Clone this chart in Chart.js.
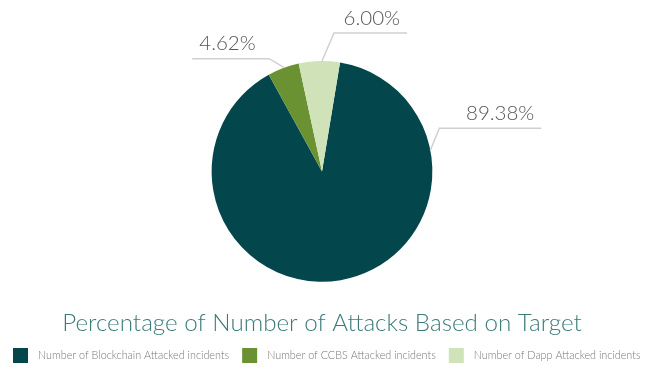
<!DOCTYPE html>
<html>
<head>
<meta charset="utf-8">
<script src="https://cdn.jsdelivr.net/npm/chart.js@4.4.1/dist/chart.umd.min.js"></script>
<style>
  html, body { margin: 0; padding: 0; background: #fff; }
  #wrap { width: 661px; height: 372px; position: relative; }
</style>
</head>
<body>
<div id="wrap"><canvas id="pieChart"></canvas></div>
<script>
// chart data
const categories = [
    'Number of Blockchain Attacked incidents',
    'Number of CCBS Attacked incidents',
    'Number of Dapp Attacked incidents'
];
const shares = [89.38, 4.62, 6.00];
const sliceColors = ['#03474c', '#6a9132', '#d0e2b8'];
const chartTitle = 'Percentage of Number of Attacks Based on Target';

// where each percent label hangs off the pie (angle from 12 o'clock, clockwise)
const labelLayout = [
    { angle: 79, dx: 9, dy: -22, len: 102, side: 1 },
    { angle: -20, dx: -15, dy: -9, len: 77, side: -1 },
    { angle: 0, dx: 12, dy: -28, len: 73, side: 1 }
];

const FONT = 'Lato, "Open Sans", sans-serif';

const leaderLabels = {
    id: 'leaderLabels',
    afterDatasetsDraw(chart) {
        const ctx = chart.ctx;
        const meta = chart.getDatasetMeta(0);
        ctx.save();
        ctx.strokeStyle = '#d0d0d0';
        ctx.lineWidth = 1.5;
        ctx.fillStyle = '#555';
        ctx.font = '300 20.5px ' + FONT;
        ctx.textBaseline = 'middle';
        meta.data.forEach((arc, i) => {
            const cfg = labelLayout[i];
            const a = (cfg.angle - 90) * Math.PI / 180;
            const sx = arc.x + Math.cos(a) * arc.outerRadius;
            const sy = arc.y + Math.sin(a) * arc.outerRadius;
            const bx = sx + cfg.dx;
            const by = sy + cfg.dy;
            const ex = bx + cfg.side * cfg.len;
            ctx.beginPath();
            ctx.moveTo(sx, sy);
            ctx.lineTo(bx, by);
            ctx.lineTo(ex, by);
            ctx.stroke();
            const txt = shares[i].toFixed(2) + '%';
            ctx.textAlign = cfg.side > 0 ? 'right' : 'left';
            ctx.fillText(txt, ex - cfg.side * 7, by - 15);
        });
        ctx.restore();
    }
};

// simple one-row legend below the title, spaced like the original
const bottomLegend = {
    id: 'bottomLegend',
    afterDraw(chart) {
        const ctx = chart.ctx;
        const colors = chart.data.datasets[0].backgroundColor;
        const y = 355.5;
        let x = 13;
        ctx.save();
        ctx.font = '300 10.8px ' + FONT;
        ctx.textBaseline = 'middle';
        ctx.textAlign = 'left';
        chart.data.labels.forEach((label, i) => {
            ctx.fillStyle = colors[i];
            ctx.fillRect(x, y - 7.5, 15, 15);
            ctx.fillStyle = '#777';
            ctx.fillText(label, x + 25, y);
            x += 25 + ctx.measureText(label).width + 13;
        });
        ctx.restore();
    }
};

new Chart(document.getElementById('pieChart'), {
    type: 'pie',
    data: {
        labels: categories,
        datasets: [{
            data: shares,
            backgroundColor: sliceColors,
            borderWidth: 0
        }]
    },
    options: {
        responsive: true,
        maintainAspectRatio: false,
        animation: false,
        rotation: 9.4,
        layout: { padding: { top: 61, right: 17, left: 0, bottom: 34 } },
        plugins: {
            tooltip: { enabled: false },
            legend: { display: false },
            title: {
                display: true,
                text: chartTitle,
                position: 'bottom',
                color: '#3a7a7a',
                font: { family: FONT, size: 24.2, weight: '300' },
                padding: { top: 26.6, bottom: 0.6 }
            }
        }
    },
    plugins: [leaderLabels, bottomLegend]
});
</script>
</body>
</html>
